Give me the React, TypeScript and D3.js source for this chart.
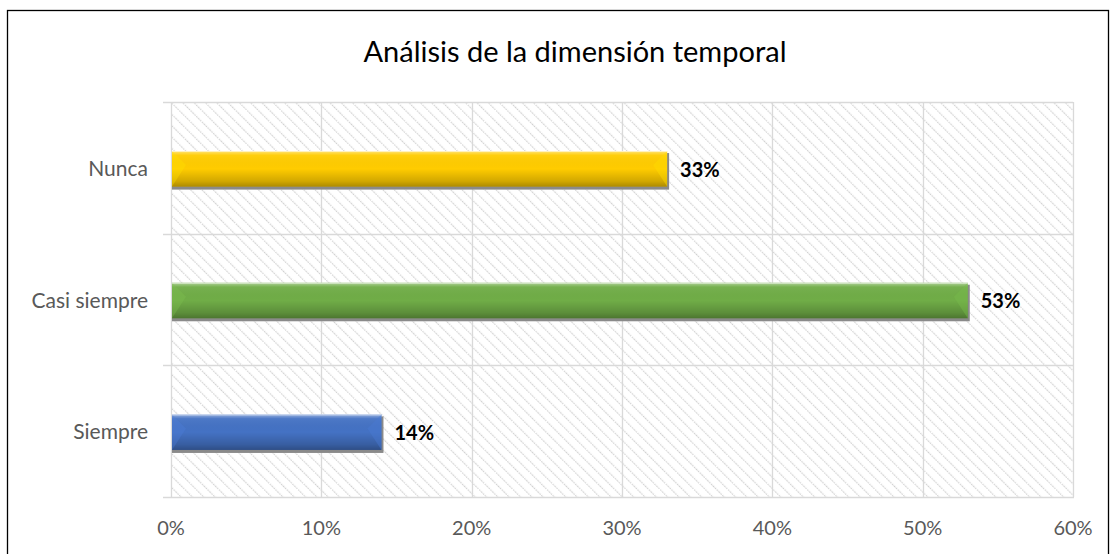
import React, { useEffect, useRef } from 'react';
import * as d3 from 'd3';

const categories = ['Nunca', 'Casi siempre', 'Siempre'];
const values = [0.33, 0.53, 0.14];
const barColors = ['#FFCC00', '#70AD47', '#4472C4'];
const tickValues = [0, 0.1, 0.2, 0.3, 0.4, 0.5, 0.6];
const title = 'Análisis de la dimensión temporal';

const W = 1111;
const H = 554;
const margin = { top: 102, right: 38, bottom: 57, left: 171 };
const FONT = "Lato, 'Open Sans', sans-serif";

const App: React.FC = () => {
  const svgRef = useRef<SVGSVGElement | null>(null);

  useEffect(() => {
    if (!svgRef.current) return;
    const svg = d3.select(svgRef.current);
    svg.selectAll('*').remove();

    const x = d3.scaleLinear().domain([0, 0.6]).range([margin.left, W - margin.right]);
    const y = d3.scaleBand().domain(categories).range([margin.top, H - margin.bottom]).padding(0);

    const defs = svg.append('defs');
    // wide downward diagonal hatch
    const pat = defs.append('pattern')
      .attr('id', 'hatch')
      .attr('patternUnits', 'userSpaceOnUse')
      .attr('width', 8)
      .attr('height', 8)
      .attr('patternTransform', 'rotate(-45)');
    pat.append('line')
      .attr('x1', 0).attr('y1', 0).attr('x2', 0).attr('y2', 8)
      .attr('stroke', '#d0d0d0')
      .attr('stroke-width', 2.4)
      .attr('stroke-dasharray', '1.5 1');

    // bevel shading
    const vg = defs.append('linearGradient').attr('id', 'vshade').attr('x1', 0).attr('y1', 0).attr('x2', 0).attr('y2', 1);
    vg.append('stop').attr('offset', '0%').attr('stop-color', '#fff').attr('stop-opacity', 0.45);
    vg.append('stop').attr('offset', '12%').attr('stop-color', '#fff').attr('stop-opacity', 0.05);
    vg.append('stop').attr('offset', '50%').attr('stop-color', '#000').attr('stop-opacity', 0.0);
    vg.append('stop').attr('offset', '85%').attr('stop-color', '#000').attr('stop-opacity', 0.18);
    vg.append('stop').attr('offset', '100%').attr('stop-color', '#000').attr('stop-opacity', 0.32);

    // outer chart border
    svg.append('rect')
      .attr('x', 7.5).attr('y', 10.5)
      .attr('width', 1101).attr('height', 600)
      .attr('fill', '#fff')
      .attr('stroke', '#000')
      .attr('stroke-width', 1.3);

    // plot background hatch
    svg.append('rect')
      .attr('x', margin.left).attr('y', margin.top)
      .attr('width', x(0.6) - x(0)).attr('height', H - margin.bottom - margin.top)
      .attr('fill', 'url(#hatch)');

    // vertical gridlines
    svg.append('g').selectAll('line')
      .data(tickValues)
      .join('line')
      .attr('x1', d => Math.round(x(d)) + 0.5)
      .attr('x2', d => Math.round(x(d)) + 0.5)
      .attr('y1', margin.top)
      .attr('y2', H - margin.bottom)
      .attr('stroke', '#d9d9d9')
      .attr('stroke-width', 1.3);

    // horizontal band boundaries (with outside ticks)
    const bounds = categories.map(c => y(c) as number).concat([H - margin.bottom]);
    svg.append('g').selectAll('line')
      .data(bounds)
      .join('line')
      .attr('x1', margin.left - 8)
      .attr('x2', (d, i) => (i === bounds.length - 1 ? x(0.6) + 1 : x(0.6)))
      .attr('y1', d => Math.round(d) + 0.5)
      .attr('y2', d => Math.round(d) + 0.5)
      .attr('stroke', '#d9d9d9')
      .attr('stroke-width', 1.3);

    // bars
    const bh = y.bandwidth() * 0.27;
    const bars = svg.append('g').selectAll('g')
      .data(categories)
      .join('g')
      .attr('transform', c => `translate(0, ${(y(c) as number) + y.bandwidth() / 2 - bh / 2 + 1})`);

    bars.each(function (c, i) {
      const g = d3.select(this);
      const x0 = x(0) + 1;
      const x1 = x(values[i]);
      const w = x1 - x0;
      const col = barColors[i];
      const b = Math.min(14, bh / 2);
      // shadow
      g.append('rect').attr('x', x0).attr('y', 2).attr('width', w + 2).attr('height', bh + 1).attr('fill', '#8a8a8a');
      g.append('rect').attr('x', x0).attr('y', 0).attr('width', w).attr('height', bh).attr('fill', col);
      g.append('rect').attr('x', x0).attr('y', 0).attr('width', w).attr('height', bh).attr('fill', 'url(#vshade)');
      // left bevel
      g.append('path')
        .attr('d', `M${x0},0 L${x0 + b},${b} L${x0},${bh} Z`)
        .attr('fill', d3.color(col)!.brighter(0.3).toString())
        .attr('opacity', 0.35);
      // right bevel
      g.append('path')
        .attr('d', `M${x1},0 L${x1 - b},${b} L${x1},${bh} Z`)
        .attr('fill', d3.color(col)!.brighter(0.2).toString())
        .attr('opacity', 0.45);
      // top highlight edge
      g.append('line').attr('x1', x0).attr('x2', x1).attr('y1', 0.5).attr('y2', 0.5)
        .attr('stroke', '#fff').attr('stroke-opacity', 0.6);
      // value label
      g.append('text')
        .attr('x', x1 + 13)
        .attr('y', bh / 2 + 8)
        .attr('font-family', FONT)
        .attr('font-size', 20)
        .attr('font-weight', 700)
        .attr('fill', '#000')
        .text(`${Math.round(values[i] * 100)}%`);
    });

    // category labels
    svg.append('g').selectAll('text')
      .data(categories)
      .join('text')
      .attr('x', 148)
      .attr('y', c => (y(c) as number) + y.bandwidth() / 2 + 8)
      .attr('text-anchor', 'end')
      .attr('font-family', FONT)
      .attr('font-size', 21)
      .attr('fill', '#595959')
      .text(c => c);

    // x tick labels
    svg.append('g').selectAll('text')
      .data(tickValues)
      .join('text')
      .attr('x', d => x(d))
      .attr('y', 535)
      .attr('text-anchor', 'middle')
      .attr('font-family', FONT)
      .attr('font-size', 20)
      .attr('fill', '#595959')
      .text(d => d3.format('.0%')(d));

    // title
    svg.append('text')
      .attr('x', 575)
      .attr('y', 62)
      .attr('text-anchor', 'middle')
      .attr('font-family', FONT)
      .attr('font-size', 29)
      .attr('fill', '#000')
      .text(title);
  }, []);

  return (
    <svg
      ref={svgRef}
      width={W}
      height={H}
      style={{ position: 'absolute', left: 0, top: 0, background: '#fff' }}
    />
  );
};

export default App;
